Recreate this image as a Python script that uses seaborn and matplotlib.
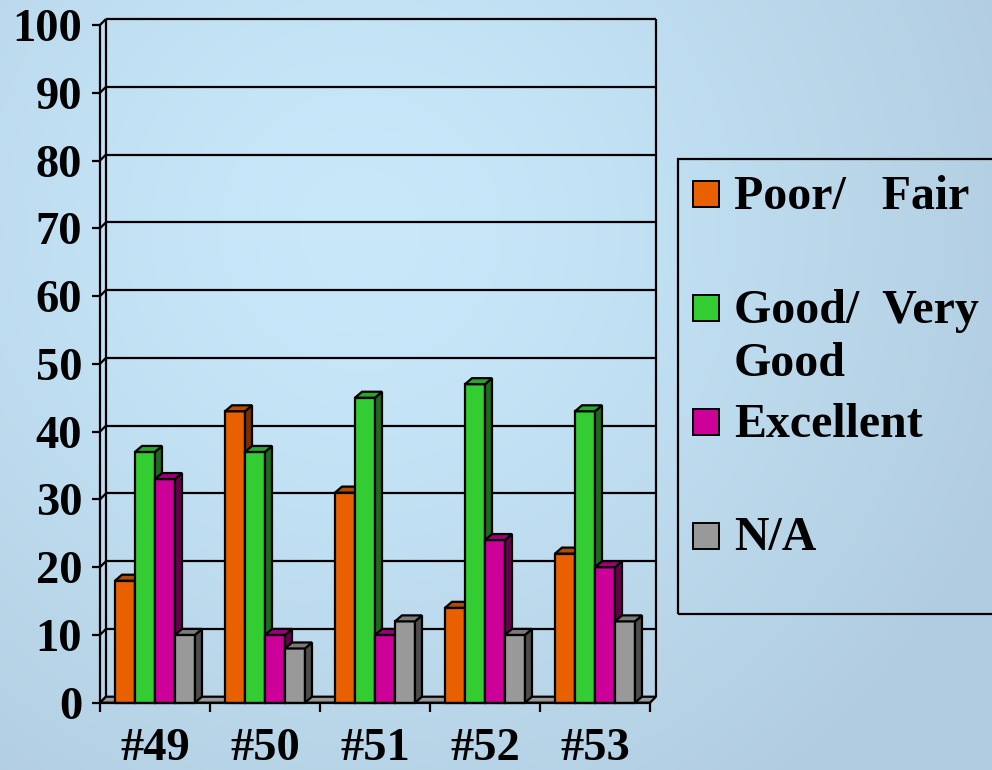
import numpy as np
import pandas as pd
import matplotlib
matplotlib.use("Agg")
import matplotlib.pyplot as plt
from matplotlib.patches import Polygon, Rectangle
from matplotlib.colors import to_rgb
import seaborn as sns

# Survey results (percent of respondents)
surveys = ["#49", "#50", "#51", "#52", "#53"]
ratings = ["Poor/ Fair", "Good/ Very Good", "Excellent", "N/A"]
poor_fair = [18, 43, 31, 14, 22]
good_very_good = [37, 37, 45, 47, 43]
excellent = [33, 10, 10, 24, 20]
not_answered = [10, 8, 12, 10, 12]
legend_lines = [["Poor/   Fair"], ["Good/  Very", "Good"], ["Excellent"], ["N/A"]]
y_ticks = list(range(0, 101, 10))

front_colors = ["#e86000", "#33cc33", "#cc0099", "#999999"]
top_colors = ["#b44c00", "#2aa62a", "#9e0077", "#7a7a7a"]
side_colors = ["#7a3000", "#1e6a1e", "#66004c", "#4d4d4d"]

df = pd.DataFrame({
    "survey": surveys * 4,
    "rating": sum([[r] * len(surveys) for r in ratings], []),
    "pct": poor_fair + good_very_good + excellent + not_answered,
})

W, H = 992, 770
sns.set_theme(style="white")
plt.rcParams["font.family"] = ["Liberation Serif", "DejaVu Serif"]
plt.rcParams["font.weight"] = "bold"

fig = plt.figure(figsize=(W / 100, H / 100), dpi=100)

# soft blue radial backdrop
yy, xx = np.mgrid[0:H, 0:W]
d = np.sqrt((xx - 360.0) ** 2 + (yy - 230.0) ** 2) / 700.0
t = np.clip(d, 0, 1) ** 1.3
c0 = np.array(to_rgb("#c9e9fb"))
c1 = np.array(to_rgb("#b1cce0"))
grad = c0[None, None, :] * (1 - t[..., None]) + c1[None, None, :] * t[..., None]
bg = fig.add_axes([0, 0, 1, 1], zorder=-10)
bg.imshow(grad, extent=[0, 1, 0, 1], aspect="auto", origin="upper")
bg.axis("off")

ax_left, ax_right, ax_bottom, ax_top = 100, 650, 702.7, 25
ax = fig.add_axes([ax_left / W, (H - ax_bottom) / H,
                   (ax_right - ax_left) / W, (ax_bottom - ax_top) / H])
ax.patch.set_visible(False)

sns.barplot(data=df, x="survey", y="pct", hue="rating", order=surveys,
            hue_order=ratings, palette=front_colors, saturation=1,
            width=0.727, edgecolor="black", linewidth=1.6, errorbar=None,
            legend=False, ax=ax)
ax.set_xlim(-0.5, 4.5)
ax.set_ylim(0, 100)

ux = 5 / (ax_right - ax_left)       # data units per pixel
uy = 100 / (ax_bottom - ax_top)
bdx, bdy = 7 * ux, 6 * uy           # bar depth
wdx, wdy = 6 * ux, 6 * uy           # back wall offset

# 3D faces on each bar; bars further right sit on top
bars = sorted([p for p in ax.patches], key=lambda p: p.get_x())
front_rgb = [np.array(to_rgb(c)) for c in front_colors]
for k, p in enumerate(bars):
    fc = np.array(p.get_facecolor()[:3])
    ci = int(np.argmin([np.sum((fc - c) ** 2) for c in front_rgb]))
    x0, w, h = p.get_x(), p.get_width(), p.get_height()
    z = 3 + k * 0.01
    p.set_zorder(z)
    p.set_clip_on(False)
    top = Polygon([(x0, h), (x0 + w, h), (x0 + w + bdx, h + bdy), (x0 + bdx, h + bdy)],
                  closed=True, facecolor=top_colors[ci], edgecolor="black",
                  linewidth=1.6, zorder=z, clip_on=False, joinstyle="miter")
    side = Polygon([(x0 + w, 0), (x0 + w + bdx, bdy), (x0 + w + bdx, h + bdy), (x0 + w, h)],
                   closed=True, facecolor=side_colors[ci], edgecolor="black",
                   linewidth=1.6, zorder=z, clip_on=False, joinstyle="miter")
    ax.add_patch(side)
    ax.add_patch(top)

# floor
x_lo, x_hi = -0.5, 4.5
ax.add_patch(Polygon([(x_lo, 0), (x_hi, 0), (x_hi + wdx, wdy), (x_lo + wdx, wdy)],
                     closed=True, facecolor="#999999", edgecolor="black",
                     linewidth=1.6, zorder=2.5, clip_on=False))

# back wall gridlines and edges
line_kw = dict(color="black", linewidth=1.6, clip_on=False, solid_capstyle="butt")
for yv in y_ticks[1:]:
    ax.plot([x_lo + wdx, x_hi + wdx], [yv + wdy] * 2, zorder=1, **line_kw)
ax.plot([x_lo + wdx] * 2, [wdy, 100 + wdy], zorder=1, **line_kw)
ax.plot([x_hi + wdx] * 2, [wdy, 100 + wdy], zorder=1, **line_kw)
for yv in y_ticks:
    ax.plot([x_lo, x_lo + wdx], [yv, yv + wdy], zorder=1, **line_kw)

# axes styling
for s in ["top", "right"]:
    ax.spines[s].set_visible(False)
for s in ["left", "bottom"]:
    ax.spines[s].set_color("black")
    ax.spines[s].set_linewidth(1.6)
    ax.spines[s].set_zorder(10)

ax.set_yticks(y_ticks)
ax.set_yticklabels([str(v) for v in y_ticks])
ax.tick_params(axis="y", direction="out", length=5.8, width=1.6, color="black",
               pad=7, labelsize=33.5, labelcolor="black", left=True)
ax.set_xticks(range(len(surveys)))
ax.set_xticklabels(surveys)
ax.set_xticks(np.arange(-0.5, len(surveys), 1.0), minor=True)
ax.tick_params(axis="x", which="major", length=0, pad=18, labelsize=33.5,
               labelcolor="black", bottom=True)
ax.tick_params(axis="x", which="minor", direction="out", length=6.5, width=1.6,
               color="black", bottom=True)
for lab in ax.get_xticklabels() + ax.get_yticklabels():
    lab.set_fontweight("bold")
ax.set_xlabel("")
ax.set_ylabel("")

# legend panel
def fx(px):
    return px / W

def fy(py):
    return (H - py) / H

fig.patches.append(Rectangle((fx(678), fy(614)), fx(1000) - fx(678), fy(159) - fy(614),
                             transform=fig.transFigure, fill=False,
                             edgecolor="black", linewidth=1.6, figure=fig))
sq_centers = [194, 308, 422, 536]
baselines = [209, 323, 437, 550]
for i, lines in enumerate(legend_lines):
    fig.patches.append(Rectangle((fx(693), fy(sq_centers[i] + 13)), fx(26), 26 / H,
                                 transform=fig.transFigure, facecolor=front_colors[i],
                                 edgecolor="black", linewidth=1.4, figure=fig))
    for j, line in enumerate(lines):
        fig.text(fx(734), fy(baselines[i] + j * 53), line, fontsize=34.5,
                 fontweight="bold", color="black", ha="left", va="baseline")

fig.savefig("out.png", dpi=100)
